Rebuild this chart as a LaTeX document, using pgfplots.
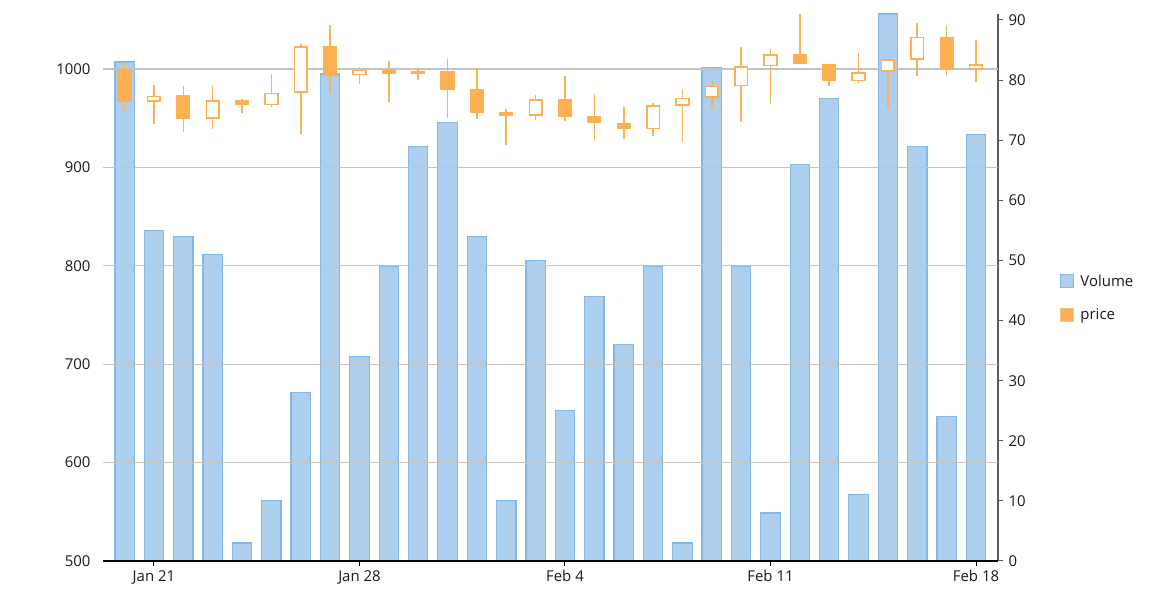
\documentclass[border=0pt]{standalone}
\usepackage{pgfplots}
\pgfplotsset{compat=1.18}
\usepackage{pgfplotstable}
\usepgfplotslibrary{statistics}
\usepackage{fontspec}
\setmainfont{Open Sans}
\definecolor{barfill}{RGB}{173,207,237}
\definecolor{barline}{RGB}{133,183,229}
\definecolor{candle}{RGB}{252,176,82}
\definecolor{gridc}{RGB}{195,195,195}
\definecolor{txt}{RGB}{25,25,25}
\definecolor{raxis}{RGB}{90,90,90}

\pgfplotstableread{
x vol
0 83
1 55
2 54
3 51
4 3
5 10
6 28
7 81
8 34
9 49
10 69
11 73
12 54
13 10
14 50
15 25
16 44
17 36
18 49
19 3
20 82
21 49
22 8
23 66
24 77
25 11
26 91
27 69
28 24
29 71
}\volumes

\pgfplotstableread{
x o h l c
0 999.7 1008.1 957.3 967.8
1 967.5 983.7 944.1 972.2
2 972.6 982.7 936.3 950.5
3 950.5 982.7 939.0 967.5
4 967.5 969.9 954.9 964.1
5 964.1 994.9 961.0 975.3
6 976.6 1025.4 934.3 1022.4
7 1022.4 1044.7 975.9 994.2
8 994.6 1001.7 984.4 998.6
9 998.6 1007.8 966.5 995.6
10 997.3 1000.7 988.8 995.6
11 997.0 1009.8 949.9 979.3
12 978.7 1000.7 949.2 956.3
13 955.6 959.0 923.1 953.3
14 953.3 973.6 948.2 968.5
15 968.5 992.9 947.2 952.6
16 951.2 974.6 927.8 945.5
17 944.4 961.7 929.2 939.4
18 939.4 965.8 932.2 962.4
19 963.4 979.7 926.2 970.2
20 971.9 987.8 959.7 982.4
21 983.4 1022.7 945.8 1002.4
22 1003.7 1020.3 964.1 1014.2
23 1014.2 1055.6 1005.8 1005.8
24 1004.4 1004.4 983.1 988.5
25 988.5 1015.9 986.1 996.3
26 998.0 1010.2 959.7 1009.1
27 1010.5 1046.4 993.2 1032.2
28 1032.2 1044.7 993.2 1000.3
29 1000.3 1029.5 986.4 1004.4
}\candles

\pgfplotsset{
  bear/.style={draw=candle, fill=candle, line width=1.6bp},
  bull/.style={draw=candle, fill=white, line width=1.6bp},
  sqlegend/.style={legend image code/.code={\draw[##1] (0bp,-6.5bp) rectangle (13bp,6.5bp); \path (17bp,0bp);}},
}

\newcommand\candle[5]{%
  \ifdim #5pt<#2pt
    \def\lo{#5}\def\hi{#2}\def\cs{bear}%
  \else
    \def\lo{#2}\def\hi{#5}\def\cs{bull}%
  \fi
  \edef\tmp{\noexpand\addplot[\cs, forget plot, boxplot prepared={draw position=#1, lower whisker=#4, lower quartile=\lo, median=\lo, upper quartile=\hi, upper whisker=#3}] coordinates {};}%
  \tmp
}

\begin{document}
\begin{tikzpicture}[x=1bp,y=1bp]
\path[use as bounding box] (0,0) rectangle (1170,600);
\begin{axis}[
  at={(103bp,39bp)}, anchor=south west, scale only axis,
  width=895bp, height=547bp,
  xmin=-0.736, xmax=29.75, ymin=0, ymax=91,
  axis x line=none, axis y line*=right,
  y axis line style={draw=raxis, line width=1.3bp, -},
  ytick={0,10,...,90},
  ytick style={draw=raxis, line width=1bp},
  tick align=outside, major tick length=5bp,
  yticklabel style={font=\fontsize{15}{18}\selectfont, text=txt, xshift=2bp},
  /pgf/number format/assume math mode=true,
  ybar, bar width=0.66,
]
\addplot[fill=barfill, draw=barline, line width=1.2bp] table[x=x,y=vol]{\volumes};
\end{axis}
\begin{axis}[
  at={(103bp,39bp)}, anchor=south west, scale only axis,
  width=895bp, height=547bp,
  xmin=-0.736, xmax=29.75, ymin=500, ymax=1056,
  axis x line*=bottom, axis y line*=left,
  x axis line style={draw=black, line width=1.5bp, -},
  y axis line style={draw=none},
  ytick={500,600,...,1000}, ytick style={draw=none},
  xtick={1,8,15,22,29},
  xticklabels={Jan 21,Jan 28,Feb 4,Feb 11,Feb 18},
  xtick style={draw=black, line width=1bp},
  tick align=outside, major tick length=5bp,
  ymajorgrids, grid style={draw=gridc, line width=1.2bp},
  ticklabel style={font=\fontsize{15}{18}\selectfont, text=txt},
  yticklabel style={xshift=-4bp},
  xticklabel style={yshift=-1bp},
  /pgf/number format/assume math mode=true,
  /pgf/number format/set thousands separator={},
  boxplot/draw direction=y,
  boxplot/box extend=0.43,
  boxplot/whisker extend=0,
  legend style={at={(1.066,0.481)}, anchor=west, draw=none, fill=none,
    font=\fontsize{15}{18}\selectfont, text=txt, row sep=17bp,
    legend cell align=left},
]
\addlegendimage{sqlegend, fill=barfill, draw=barline, line width=1.2bp}
\addlegendentry{Volume}
\addlegendimage{sqlegend, fill=candle, draw=candle!80!white, line width=1.2bp}
\addlegendentry{price}
\pgfplotsforeachungrouped \i in {0,...,29}{%
  \pgfplotstablegetelem{\i}{x}\of\candles\let\cx\pgfplotsretval
  \pgfplotstablegetelem{\i}{o}\of\candles\let\co\pgfplotsretval
  \pgfplotstablegetelem{\i}{h}\of\candles\let\ch\pgfplotsretval
  \pgfplotstablegetelem{\i}{l}\of\candles\let\cl\pgfplotsretval
  \pgfplotstablegetelem{\i}{c}\of\candles\let\cc\pgfplotsretval
  \edef\args{{\cx}{\co}{\ch}{\cl}{\cc}}%
  \expandafter\candle\args
}
\end{axis}
\end{tikzpicture}
\end{document}
